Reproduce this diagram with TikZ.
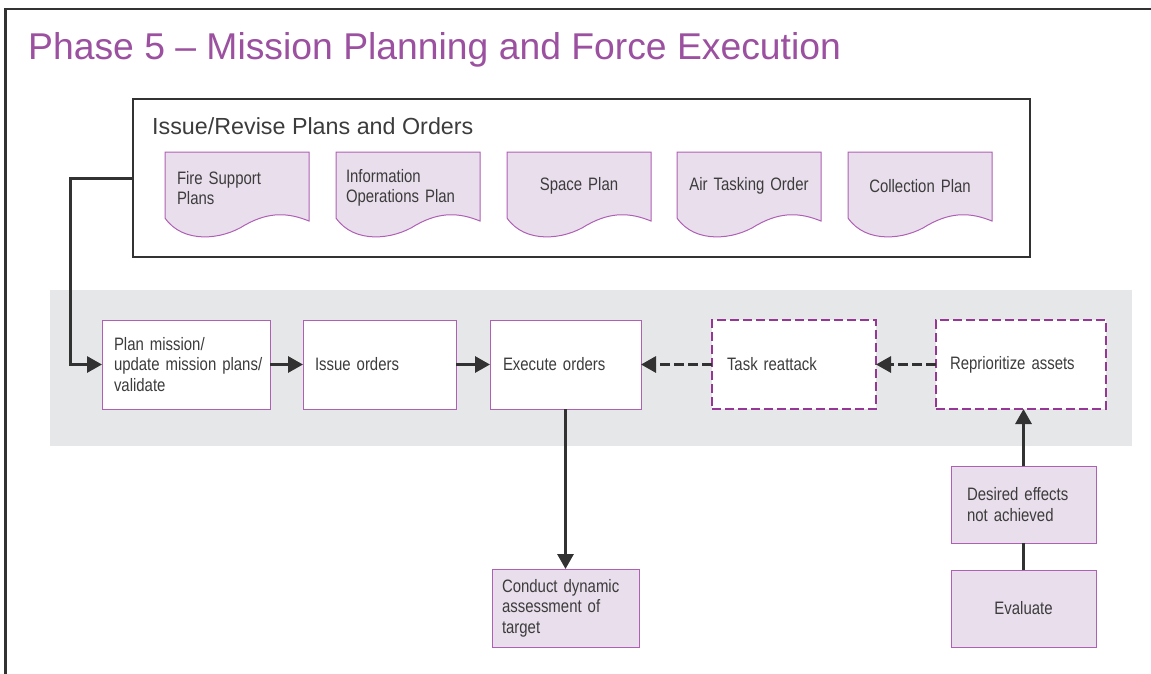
\documentclass[tikz,border=0pt]{standalone}
\usepackage{fontspec}
\setmainfont{Liberation Sans}
\newfontfamily\narrowfont[FakeStretch=0.83]{Liberation Sans}
\usetikzlibrary{arrows.meta}

\definecolor{titlepurple}{RGB}{155,80,160}
\definecolor{edgepurple}{RGB}{175,95,180}
\definecolor{dashpurple}{RGB}{150,55,150}
\definecolor{docfill}{RGB}{233,222,236}
\definecolor{bandgray}{RGB}{230,231,233}
\definecolor{textgray}{RGB}{60,60,60}
\definecolor{linegray}{RGB}{50,50,50}

\begin{document}
\begin{tikzpicture}[x=1pt, y=-1pt,
    box/.style={draw=edgepurple, line width=1pt, fill=white, anchor=north west, outer sep=0pt,
        inner xsep=12pt, minimum height=89pt, align=left, text=textgray,
        font=\narrowfont\fontsize{18}{20.5}\selectfont},
    dashbox/.style={box, draw=dashpurple, line width=2pt, dash pattern=on 9pt off 4pt},
    pinkbox/.style={box, fill=docfill, minimum height=78pt},
    doctext/.style={anchor=north west, outer sep=0pt, inner xsep=12pt, minimum height=68pt,
        text width=120pt, align=left, text=textgray, font=\narrowfont\fontsize{18}{20}\selectfont},
    arr/.style={draw=linegray, line width=3pt, -{Triangle[length=15pt,width=16pt]}},
    dasharr/.style={arr, dash pattern=on 10pt off 4pt}]

    \useasboundingbox (0,0) rectangle (1151,673);
    \clip (0,0) rectangle (1151,673);

    % Marco exterior
    \draw[linegray, line width=2.5pt] (5.5,9) rectangle (1175,700);
    % Titulo
    \node[anchor=base west, inner sep=0pt, text=titlepurple, font=\fontsize{37.3}{42}\selectfont]
        (title) at (28,59) {Phase 5 -- Mission Planning and Force Execution};

    % Caja de planes y ordenes
    \node[draw=linegray, line width=1.3pt, anchor=north west, outer sep=0pt, inner sep=0pt,
        minimum width=897pt, minimum height=158pt] (issue) at (133,99) {};
    \node[anchor=west, inner sep=0pt, text=textgray, font=\fontsize{23.3}{27}\selectfont]
        (issuetitle) at (152,126) {Issue/Revise Plans and Orders};

    % Documentos
    \foreach \dx in {165,336,507,677,848}
        \filldraw[fill=docfill, draw=edgepurple, line width=1pt] (\dx,152) -- ({\dx+144},152) -- ({\dx+144},221)
            .. controls ({\dx+124},213) and ({\dx+105},211) .. ({\dx+80},225)
            .. controls ({\dx+57},240) and ({\dx+18},244) .. (\dx,218) -- cycle;
    \node[doctext] (fsp) at (165,154) {Fire Support\\Plans};
    \node[doctext, inner xsep=10pt, text width=124pt] (iop) at (336,154) {Information\\Operations Plan};
    \node[doctext, align=center] (sp) at (507,152) {Space Plan};
    \node[doctext, align=center] (ato) at (677,152) {Air Tasking Order};
    \node[doctext, align=center] (cp) at (848,152) {Collection Plan};

    % Banda gris
    \fill[bandgray] (50,290) rectangle (1132,446);

    % Cajas del ciclo
    \node[box, text width=144pt] (plan) at (102,320) {Plan mission/\\\mbox{update mission plans/}\\validate};
    \node[box, text width=129pt] (issueord) at (303,320) {Issue orders};
    \node[box, inner xsep=13pt, text width=125pt] (exec) at (490,320) {Execute orders};
    \node[dashbox, inner xsep=15pt, text width=134pt] (task) at (712,320) {Task reattack};
    \node[dashbox, inner xsep=14pt, text width=142pt] (reprio) at (936,320) {Reprioritize assets};

    % Cajas inferiores
    \node[pinkbox, inner xsep=10pt, text width=127pt] (conduct) at (492,569)
        {Conduct dynamic\\assessment of\\target};
    \node[pinkbox, inner xsep=16pt, text width=113pt, minimum height=77pt] (desired) at (951,466)
        {Desired effects\\not achieved};
    \node[pinkbox, align=center, text width=121pt, minimum height=77pt] (eval) at (951,570) {Evaluate};

    % Flechas
    \draw[arr] (issue.west) -- ++(-63,0) |- (plan.west);
    \draw[arr] (plan.east) -- (issueord.west);
    \draw[arr] (issueord.east) -- (exec.west);
    \draw[dasharr] (task.west) -- (exec.east);
    \draw[dasharr] (reprio.west) -- (task.east);
    \draw[arr] (exec.south) -- (conduct.north);
    \draw[draw=linegray, line width=3pt] (eval.north) -- (desired.south);
    \draw[arr] (desired.north) -- (desired.north |- reprio.south);
\end{tikzpicture}
\end{document}
